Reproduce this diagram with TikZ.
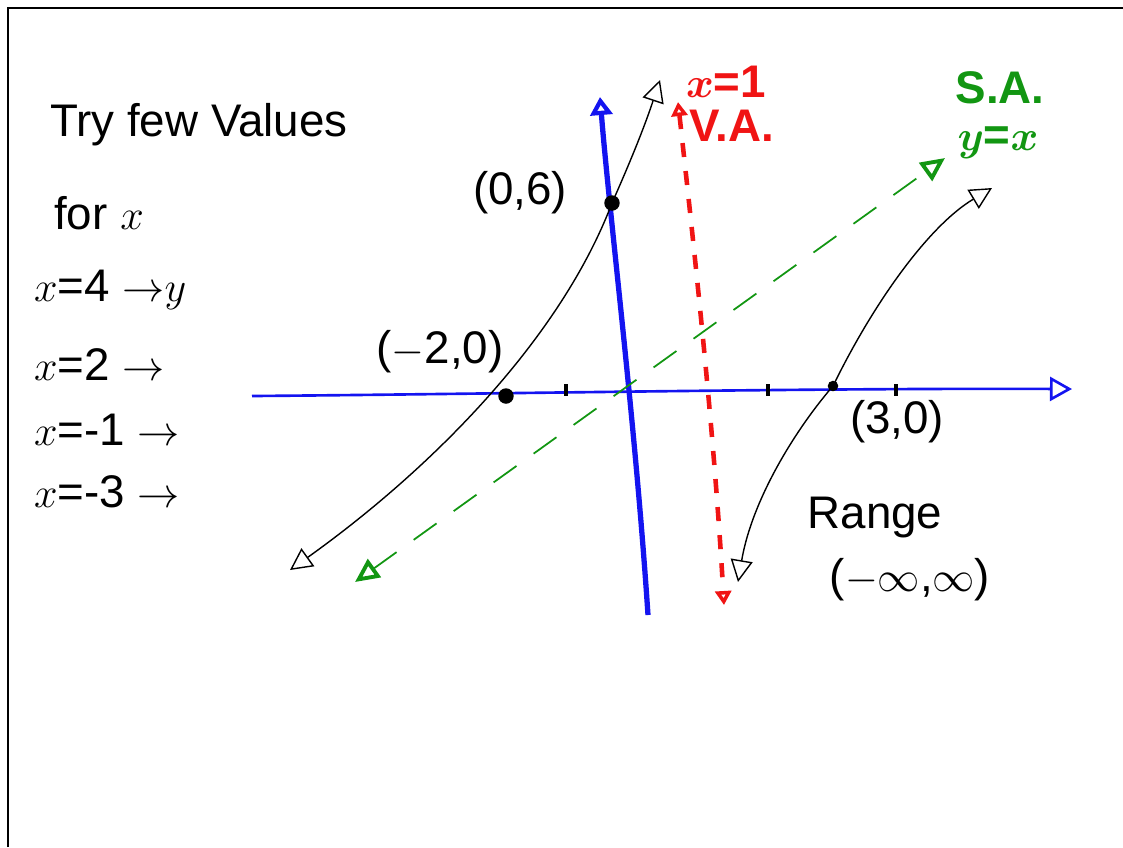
\documentclass[tikz,border=0pt]{standalone}
\usepackage{fontspec}
\setmainfont{Liberation Sans}
\usetikzlibrary{arrows.meta}
\definecolor{cblue}{HTML}{1414F0}
\definecolor{cgreen}{HTML}{129612}
\definecolor{cred}{HTML}{F01414}
\tikzset{
  every picture/.style={font=\fontsize{13}{15}\selectfont},
  axisx/.style={draw=cblue, line width=0.75pt, -{Triangle[open, length=2.2mm, width=2.4mm, line width=0.75pt]}},
  axisy/.style={draw=cblue, line width=1.5pt, -{Triangle[open, length=1.8mm, width=2.2mm, line width=1.2pt]}},
  branch/.style={draw=black, line width=0.4pt, {Triangle[open, length=2.2mm, width=2.2mm]}-{Triangle[open, length=2.2mm, width=2.2mm]}},
  slant/.style={draw=cgreen, line width=0.5pt, dash pattern=on 8pt off 6pt, {Triangle[open, length=2.4mm, width=2.2mm, line width=1.1pt]}-{Triangle[open, length=2.4mm, width=2.2mm, line width=1.1pt]}},
  vert/.style={draw=cred, line width=1.3pt, dash pattern=on 4pt off 4pt, {Triangle[open, length=1.4mm, width=1.6mm, line width=1pt]}-{Triangle[open, length=1.4mm, width=1.6mm, line width=1pt]}},
  dot/.style={fill=black, circle, inner sep=0pt, minimum size=#1},
  dot/.default=4.4pt,
  lbl/.style={inner sep=1pt},
  redlbl/.style={inner sep=0pt, text=cred, font=\fontsize{13}{15}\selectfont\bfseries\boldmath},
  greenlbl/.style={inner sep=0pt, text=cgreen, font=\fontsize{13}{15}\selectfont\bfseries\boldmath},
}
\begin{document}
\begin{tikzpicture}[x=0.01cm, y=-0.01cm]
  \useasboundingbox (0,0) rectangle (1123,847);
  % frame
  \draw[line width=0.7pt] (8,847) -- (8,8) -- (1123,8);
  % left column
  \node[lbl, anchor=west] (try) at (46,125) {Try few Values};
  \node[lbl, anchor=west] (forx) at (50,213) {for $x$};
  \foreach \v/\r/\yy [count=\j] in {4/$y$/290, 2//365, -1//430, -3//492}
    \node[lbl, anchor=west] (val\j) at (30,\yy) {$x$=\v\ $\rightarrow$\r};
  % axes
  \draw[axisx] (252,396) .. controls (500,394) and (800,388) .. (1072,389);
  \draw[axisy] (648,615) .. controls (635,420) and (610,220) .. (600,97);
  \foreach \t in {566,768,896} \draw[line width=0.9pt] (\t,384) -- (\t,396);
  % asymptotes
  \draw[slant] (355,582) -- (945,158);
  \draw[vert] (678,102) .. controls (700,300) and (715,450) .. (724,605);
  % branches
  \draw[branch] (290,570) .. controls (430,470) and (560,340) .. (612,203) .. controls (640,140) and (650,110) .. (660,80);
  \draw[branch] (738,582) .. controls (752,500) and (795,430) .. (833,386) .. controls (875,300) and (930,225) .. (992,188);
  \node[dot] (pa) at (506,396) {};
  \node[dot] (pb) at (612,203) {};
  \node[dot=3pt] (pc) at (833,386) {};
  % labels
  \node[lbl] (lb) at (520,193) {(0,6)};
  \node[lbl] (la) at (440,352) {($-$2,0)};
  \node[lbl] (lc) at (897,422) {(3,0)};
  \node[lbl] (rng) at (875,517) {Range};
  \node[lbl] (rngv) at (910,580) {($-\infty$,$\infty$)};
  \node[redlbl] (va1) at (726,82) {$x$=1};
  \node[redlbl] (va2) at (732,126) {V.A.};
  \node[greenlbl] (sa1) at (1000,88) {S.A.};
  \node[greenlbl] (sa2) at (998,143) {$y$=$x$};
\end{tikzpicture}
\end{document}
